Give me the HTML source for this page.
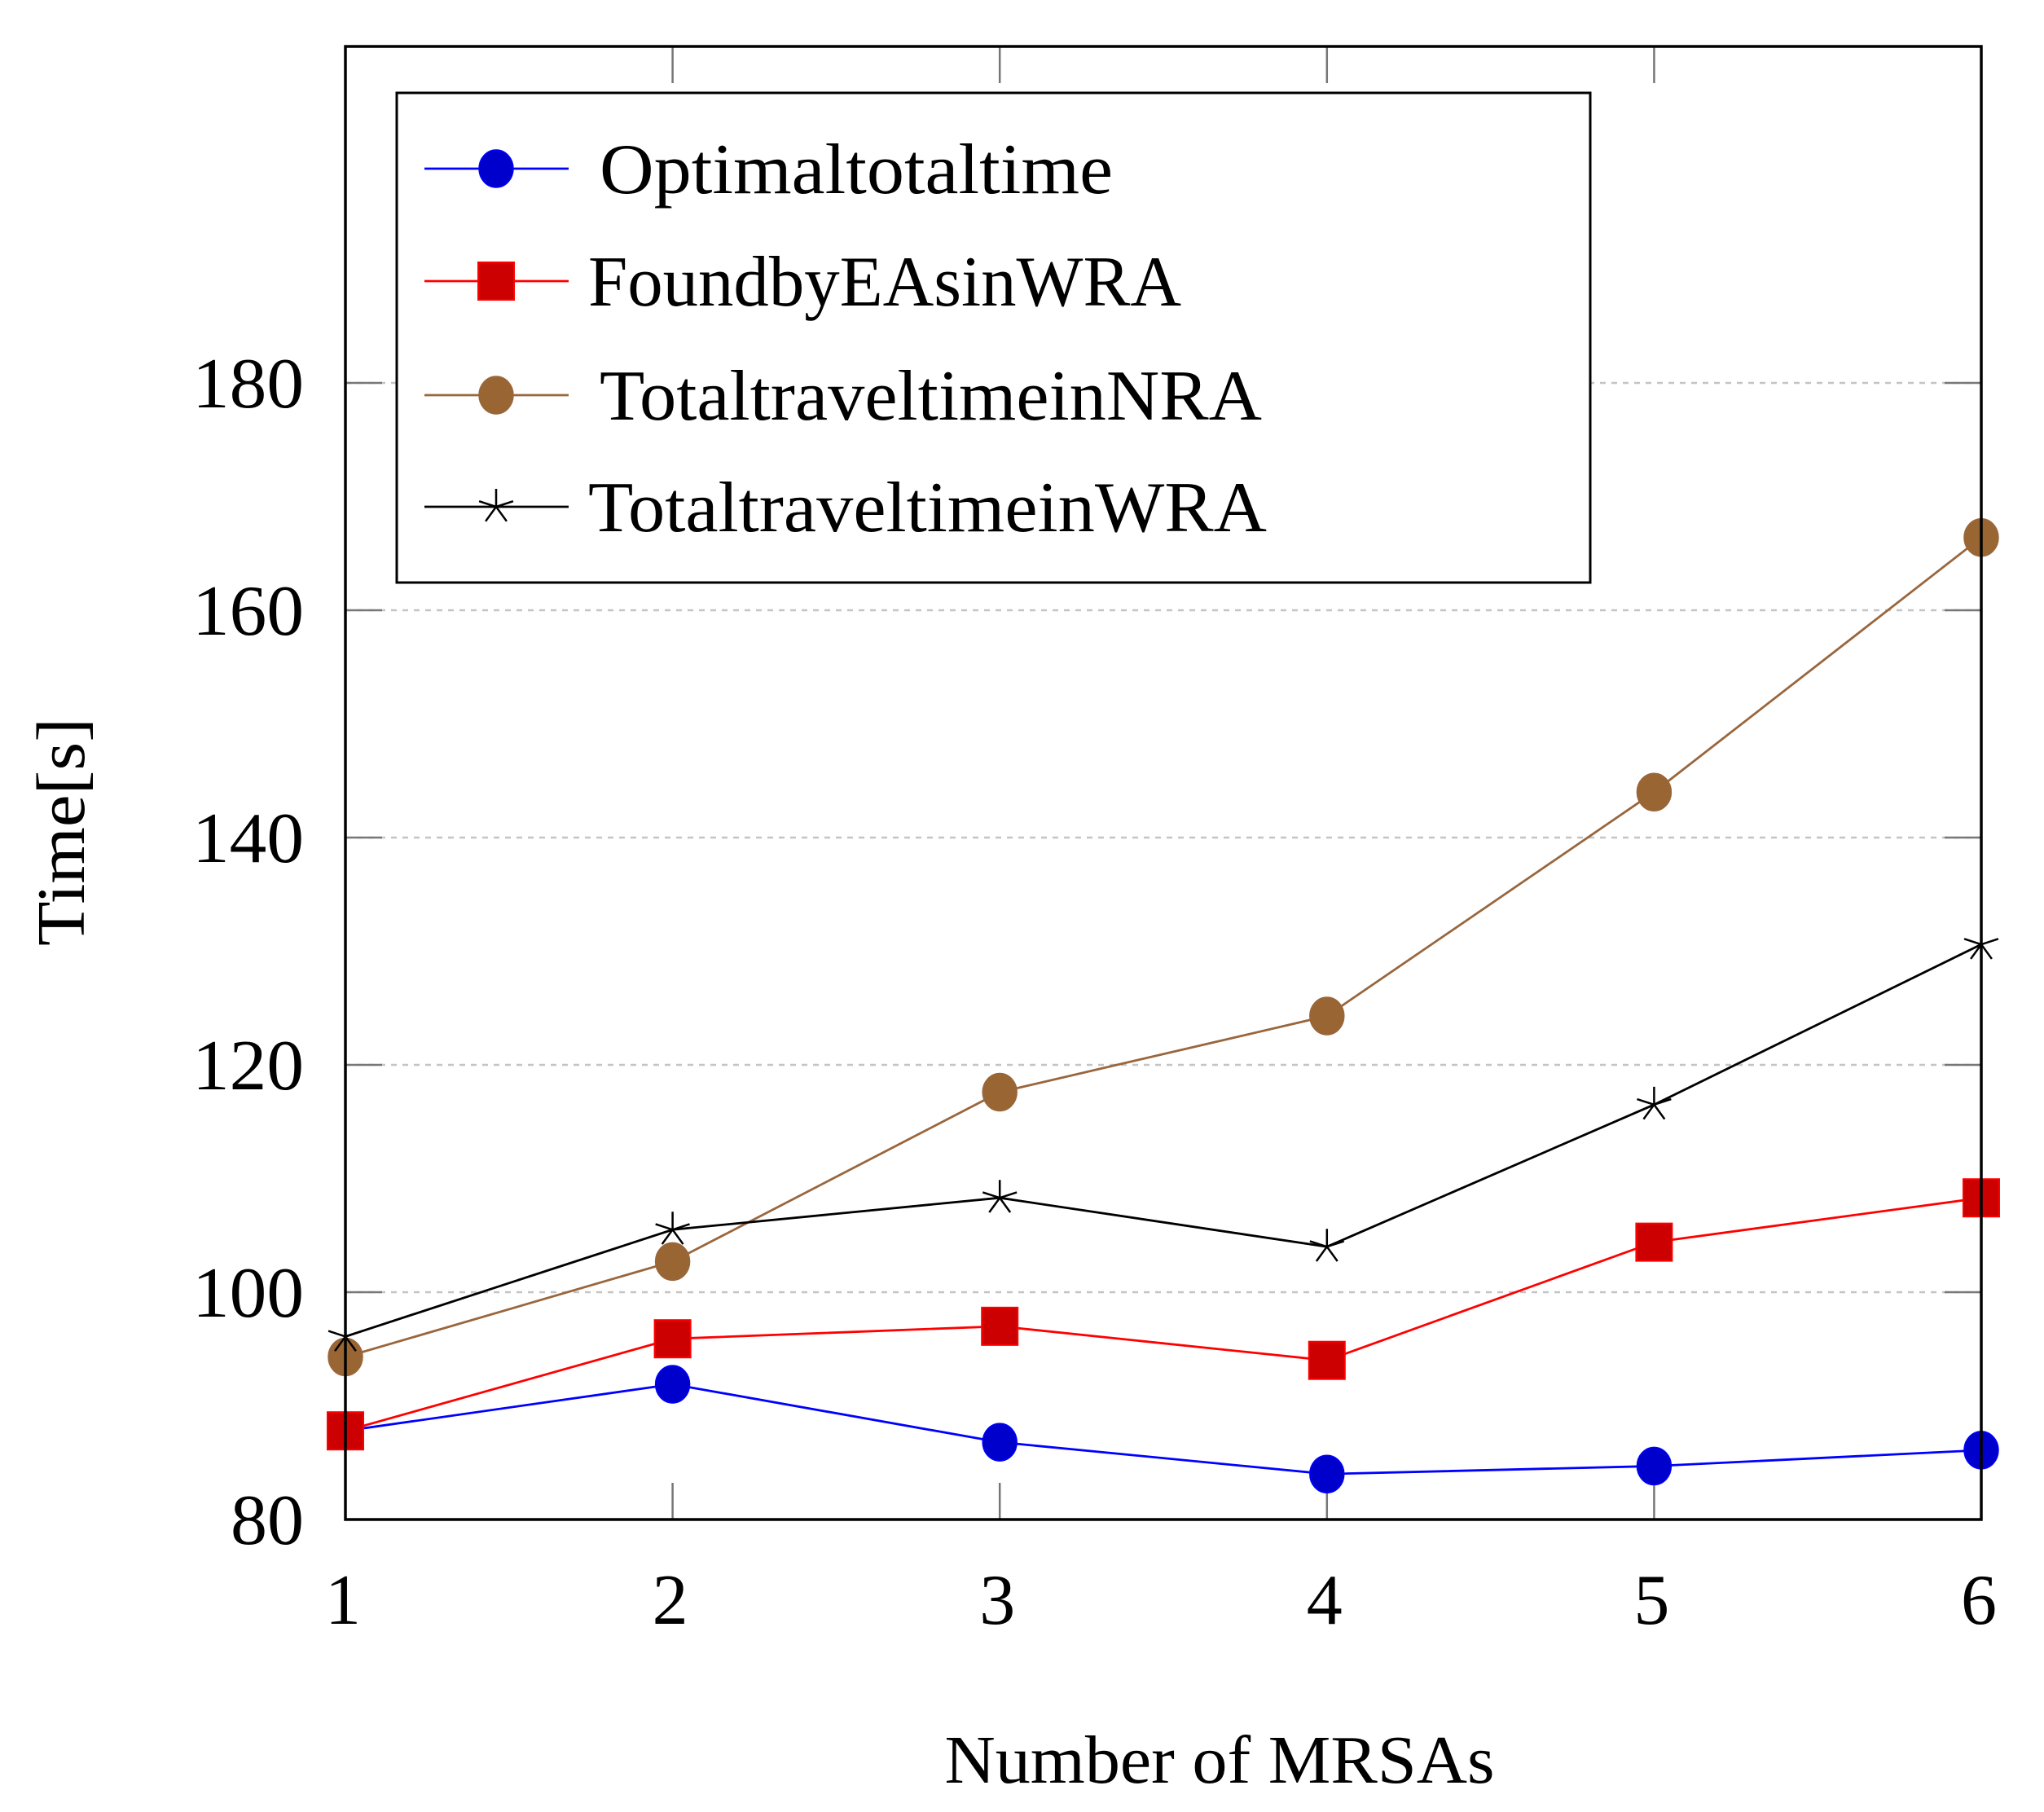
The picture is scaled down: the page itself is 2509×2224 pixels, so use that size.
<!DOCTYPE html>
<html><head><meta charset="utf-8"><style>
html,body{margin:0;padding:0;background:#fff;}
svg{display:block;}
text{font-family:"Liberation Serif",serif;fill:#000;}
</style></head><body>
<svg id="chart" width="2509" height="2224" viewBox="0 0 2509 2224" xmlns="http://www.w3.org/2000/svg">
<g id="grid"></g>
<g id="ticks"></g>
<g id="series"></g>
<rect x="424" y="57" width="2008" height="1808" fill="none" stroke="#000" stroke-width="3.5"/>
<g id="ylabels"></g>
<g id="xlabels"></g>
<text x="1497" y="2188" font-size="84" text-anchor="middle" textLength="675" lengthAdjust="spacingAndGlyphs">Number of MRSAs</text>
<text transform="translate(103,1021) rotate(-90)" font-size="84" text-anchor="middle" textLength="280" lengthAdjust="spacingAndGlyphs">Time[s]</text>
<g id="legend">
<rect x="487" y="114" width="1465" height="601" fill="#fff" stroke="#000" stroke-width="3"/>
</g>
</svg>
<script>
const categories = [1, 2, 3, 4, 5, 6];
const optimalValues = [87.8, 91.9, 86.8, 84.0, 84.7, 86.1];
const eaValues = [87.8, 95.9, 97.0, 94.0, 104.4, 108.3];
const nraValues = [94.3, 102.7, 117.6, 124.3, 144.0, 166.4];
const wraValues = [96.1, 105.5, 108.3, 104.0, 116.5, 130.6];
const yTicks = [80, 100, 120, 140, 160, 180];
const gridTicks = [100, 120, 140, 160, 180];
const seriesNames = ["Optimaltotaltime", "FoundbyEAsinWRA", "TotaltraveltimeinNRA", "TotaltraveltimeinWRA"];

const NS = "http://www.w3.org/2000/svg";
const X0 = 424, X1 = 2432, Y0 = 1865, YMIN = 80, PXU = 13.95;
function xs(c){ return X0 + (c - 1) * (X1 - X0) / 5; }
function ys(v){ return Y0 - (v - YMIN) * PXU; }
function mk(tag, attrs, parent){ const e = document.createElementNS(NS, tag); for (const k in attrs) e.setAttribute(k, attrs[k]); parent.appendChild(e); return e; }

const grid = document.getElementById('grid');
gridTicks.forEach(t => {
  const l = mk('line', {x1: X0, x2: X1, y1: ys(t), y2: ys(t), stroke: '#c4c4c4', 'stroke-width': 2.5, 'stroke-dasharray': '7 7'}, grid);
  
  
});
const ticks = document.getElementById('ticks');
categories.forEach(c => {
  [[Y0, Y0 - 45], [57, 57 + 45]].forEach(([a, b]) => {
    const l = mk('line', {x1: xs(c), x2: xs(c), y1: a, y2: b, stroke: '#777', 'stroke-width': 2.5}, ticks);
    
    
  });
});
yTicks.forEach(t => {
  [[X0, X0 + 45], [X1, X1 - 45]].forEach(([a, b]) => {
    const l = mk('line', {x1: a, x2: b, y1: ys(t), y2: ys(t), stroke: '#777', 'stroke-width': 2.5}, ticks);
    
    
  });
});
const yl = document.getElementById('ylabels');
yTicks.forEach(t => {
  const w = String(t).length === 3 ? 137 : 90;
  const e = mk('text', {x: 373, y: ys(t) + 30, 'font-size': 88, 'text-anchor': 'end', textLength: w, lengthAdjust: 'spacingAndGlyphs'}, yl);
  e.textContent = t;
  
  
});
const xl = document.getElementById('xlabels');
categories.forEach(c => {
  const e = mk('text', {x: xs(c) - 3, y: 1993, 'font-size': 88, 'text-anchor': 'middle'}, xl);
  e.textContent = c;
  
  
});

function marker(type, x, y, fill, stroke, g){
  let m;
  if (type === 'circle') m = mk('ellipse', {cx: x, cy: y, rx: 21, ry: 23, fill: fill, stroke: stroke, 'stroke-width': 1.5}, g);
  else if (type === 'square') m = mk('rect', {x: x - 22, y: y - 23, width: 44, height: 46, fill: fill, stroke: stroke, 'stroke-width': 2}, g);
  else {
    let d = '';
    for (let i = 0; i < 5; i++){ const a = -Math.PI/2 + i * 2 * Math.PI / 5; d += 'M' + x + ' ' + y + 'L' + (x + 22 * Math.cos(a)) + ' ' + (y + 22 * Math.sin(a)); }
    m = mk('path', {d: d, stroke: '#000', 'stroke-width': 2.5, fill: 'none'}, g);
  }
  return m;
}
const defs = [
  {vals: optimalValues, color: '#0000ff', fill: '#0000cc', type: 'circle', name: 'optimal-total-time'},
  {vals: eaValues, color: '#ff0000', fill: '#cc0000', type: 'square', name: 'found-by-eas-in-wra'},
  {vals: nraValues, color: '#99663d', fill: '#996633', type: 'circle', name: 'total-travel-time-nra'},
  {vals: wraValues, color: '#000000', fill: '#000', type: 'star', name: 'total-travel-time-wra'}
];
const sg = document.getElementById('series');
defs.forEach(s => {
  const g = mk('g', {}, sg);
  
  
  const pts = categories.map((c, i) => xs(c) + ',' + ys(s.vals[i])).join(' ');
  const pl = mk('polyline', {points: pts, fill: 'none', stroke: s.color, 'stroke-width': 2.8}, g);
  
  
  categories.forEach((c, i) => {
    const m = marker(s.type, xs(c), ys(s.vals[i]), s.fill, s.color, g);
    
    
  });
});
const lg = document.getElementById('legend');
const rowsY = [207, 345, 485, 622];
const textX = [736, 722, 736, 722];
const textW = [630, 728, 813, 833];
defs.forEach((s, i) => {
  const g = mk('g', {}, lg);
  
  
  mk('line', {x1: 521, x2: 698, y1: rowsY[i], y2: rowsY[i], stroke: s.color, 'stroke-width': 2.8}, g);
  marker(s.type, 609, rowsY[i], s.fill, s.color, g);
  const t = mk('text', {x: textX[i], y: rowsY[i] + 30, 'font-size': 88, textLength: textW[i], lengthAdjust: 'spacingAndGlyphs'}, g);
  t.textContent = seriesNames[i];
  
  
});
</script>
</body></html>
